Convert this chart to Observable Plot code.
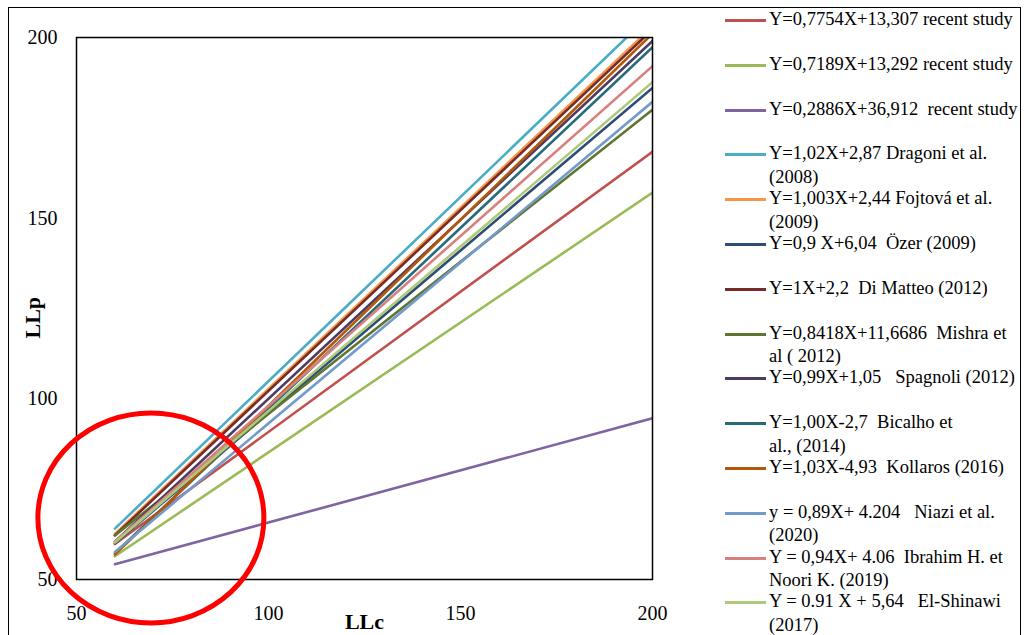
<!DOCTYPE html>
<html>
<head>
<meta charset="utf-8">
<script src="https://cdn.jsdelivr.net/npm/d3@7"></script>
<script src="https://cdn.jsdelivr.net/npm/@observablehq/plot@0.6"></script>
<style>
  html, body { margin: 0; padding: 0; background: #fff; overflow: hidden; }
  #wrap { position: relative; width: 1026px; height: 635px; font-family: "Liberation Serif", "Times New Roman", serif; }
  #border { position: absolute; left: 8px; top: 7px; width: 1013px; height: 700px; border: 1.5px solid #000; box-sizing: border-box; }
  #legend { position: absolute; left: 0; top: 0; }
  .item { position: absolute; left: 725px; display: flex; align-items: flex-start; }
  .sw { width: 41px; height: 3px; margin-top: 11px; margin-right: 3px; flex: none; }
  .lab { font-size: 18.5px; line-height: 23.5px; white-space: pre; color: #000; }
  svg { position: absolute; left: 0; top: 0; }
</style>
</head>
<body>
<div id="wrap"><div id="border"></div><div id="legend"></div></div>
<script>
// Series (legend order)
const labels = [
  "Y=0,7754X+13,307 recent study",
  "Y=0,7189X+13,292 recent study",
  "Y=0,2886X+36,912  recent study",
  "Y=1,02X+2,87 Dragoni et al.\n(2008)",
  "Y=1,003X+2,44 Fojtová et al.\n(2009)",
  "Y=0,9 X+6,04  Özer (2009)",
  "Y=1X+2,2  Di Matteo (2012)",
  "Y=0,8418X+11,6686  Mishra et\nal ( 2012)",
  "Y=0,99X+1,05   Spagnoli (2012)",
  "Y=1,00X-2,7  Bicalho et\nal., (2014)",
  "Y=1,03X-4,93  Kollaros (2016)",
  "y = 0,89X+ 4.204   Niazi et al.\n(2020)",
  "Y = 0,94X+ 4.06  Ibrahim H. et\nNoori K. (2019)",
  "Y = 0.91 X + 5,64   El-Shinawi\n(2017)"
];
const colors = [
  "#C0504D", "#9BBB59", "#8064A2", "#4BACC6", "#F79646", "#2C4D75", "#772C2A",
  "#5F7530", "#4D3B62", "#276A7C", "#B65708", "#729ACA", "#D7807E", "#AFC97A"
];
// LLc endpoints of each line
const llcValues = [60, 200];
// LLp at LLc = 60
const llpAt60 = [59.83, 56.43, 54.23, 64.07, 62.62, 60.04, 62.2, 62.18, 60.45, 57.3, 56.87, 57.6, 60.46, 60.24];
// LLp at LLc = 200
const llpAt200 = [168.39, 157.07, 94.63, 206.87, 203.04, 186.04, 202.2, 180.03, 199.05, 197.3, 201.07, 182.2, 192.06, 187.64];
const xTicks = [50, 100, 150, 200];
const yTicks = [50, 100, 150, 200];

const rows = labels.flatMap((s, i) => [
  {series: s, idx: i, llc: llcValues[0], llp: llpAt60[i]},
  {series: s, idx: i, llc: llcValues[1], llp: llpAt200[i]}
]);

const W = 1026, H = 635;
const plot = Plot.plot({
  width: W, height: H,
  marginLeft: 76, marginRight: W - 652, marginTop: 37, marginBottom: H - 579,
  style: {fontFamily: "Liberation Serif, Times New Roman, serif", fontSize: "20px", color: "#000", background: "transparent"},
  x: {domain: [50, 200], ticks: xTicks},
  y: {domain: [50, 200], ticks: yTicks},
  color: {domain: labels, range: colors},
  marks: [
    Plot.axisX({ticks: xTicks, tickSize: 0, tickPadding: 26, label: null, fontSize: 20}),
    Plot.axisY({ticks: yTicks, tickSize: 0, tickPadding: 19, label: null, fontSize: 20}),
    Plot.line(rows, {x: "llc", y: "llp", z: "series", stroke: "series", strokeWidth: 2.6, clip: true}),
    Plot.frame({stroke: "#000", strokeWidth: 1.5}),
    Plot.text(["LLc"], {frameAnchor: "bottom", dy: 49, fontSize: 22, fontWeight: "bold", fill: "#000"}),
    Plot.text(["LLp"], {frameAnchor: "left", dx: -44, dy: 30, rotate: -90, fontSize: 22, fontWeight: "bold", fill: "#000"})
  ]
});
document.getElementById("wrap").appendChild(plot);

// Red circle annotation around the origin of the lines
const sx = plot.scale("x"), sy = plot.scale("y");
const ell = document.createElementNS("http://www.w3.org/2000/svg", "ellipse");
ell.setAttribute("cx", sx.apply(69.5));
ell.setAttribute("cy", sy.apply(66.9));
ell.setAttribute("rx", 113);
ell.setAttribute("ry", 105);
ell.setAttribute("fill", "none");
ell.setAttribute("stroke", "#FF0000");
ell.setAttribute("stroke-width", 5);
plot.appendChild(ell);

// Legend
const leg = document.getElementById("legend");
labels.forEach((s, i) => {
  const it = document.createElement("div");
  it.className = "item";
  it.style.top = (20 + i * 44.8 - 12) + "px";
  const sw = document.createElement("div");
  sw.className = "sw";
  sw.style.background = colors[i];
  const lb = document.createElement("div");
  lb.className = "lab";
  lb.textContent = s;
  it.appendChild(sw); it.appendChild(lb);
  leg.appendChild(it);
});
</script>
</body>
</html>
